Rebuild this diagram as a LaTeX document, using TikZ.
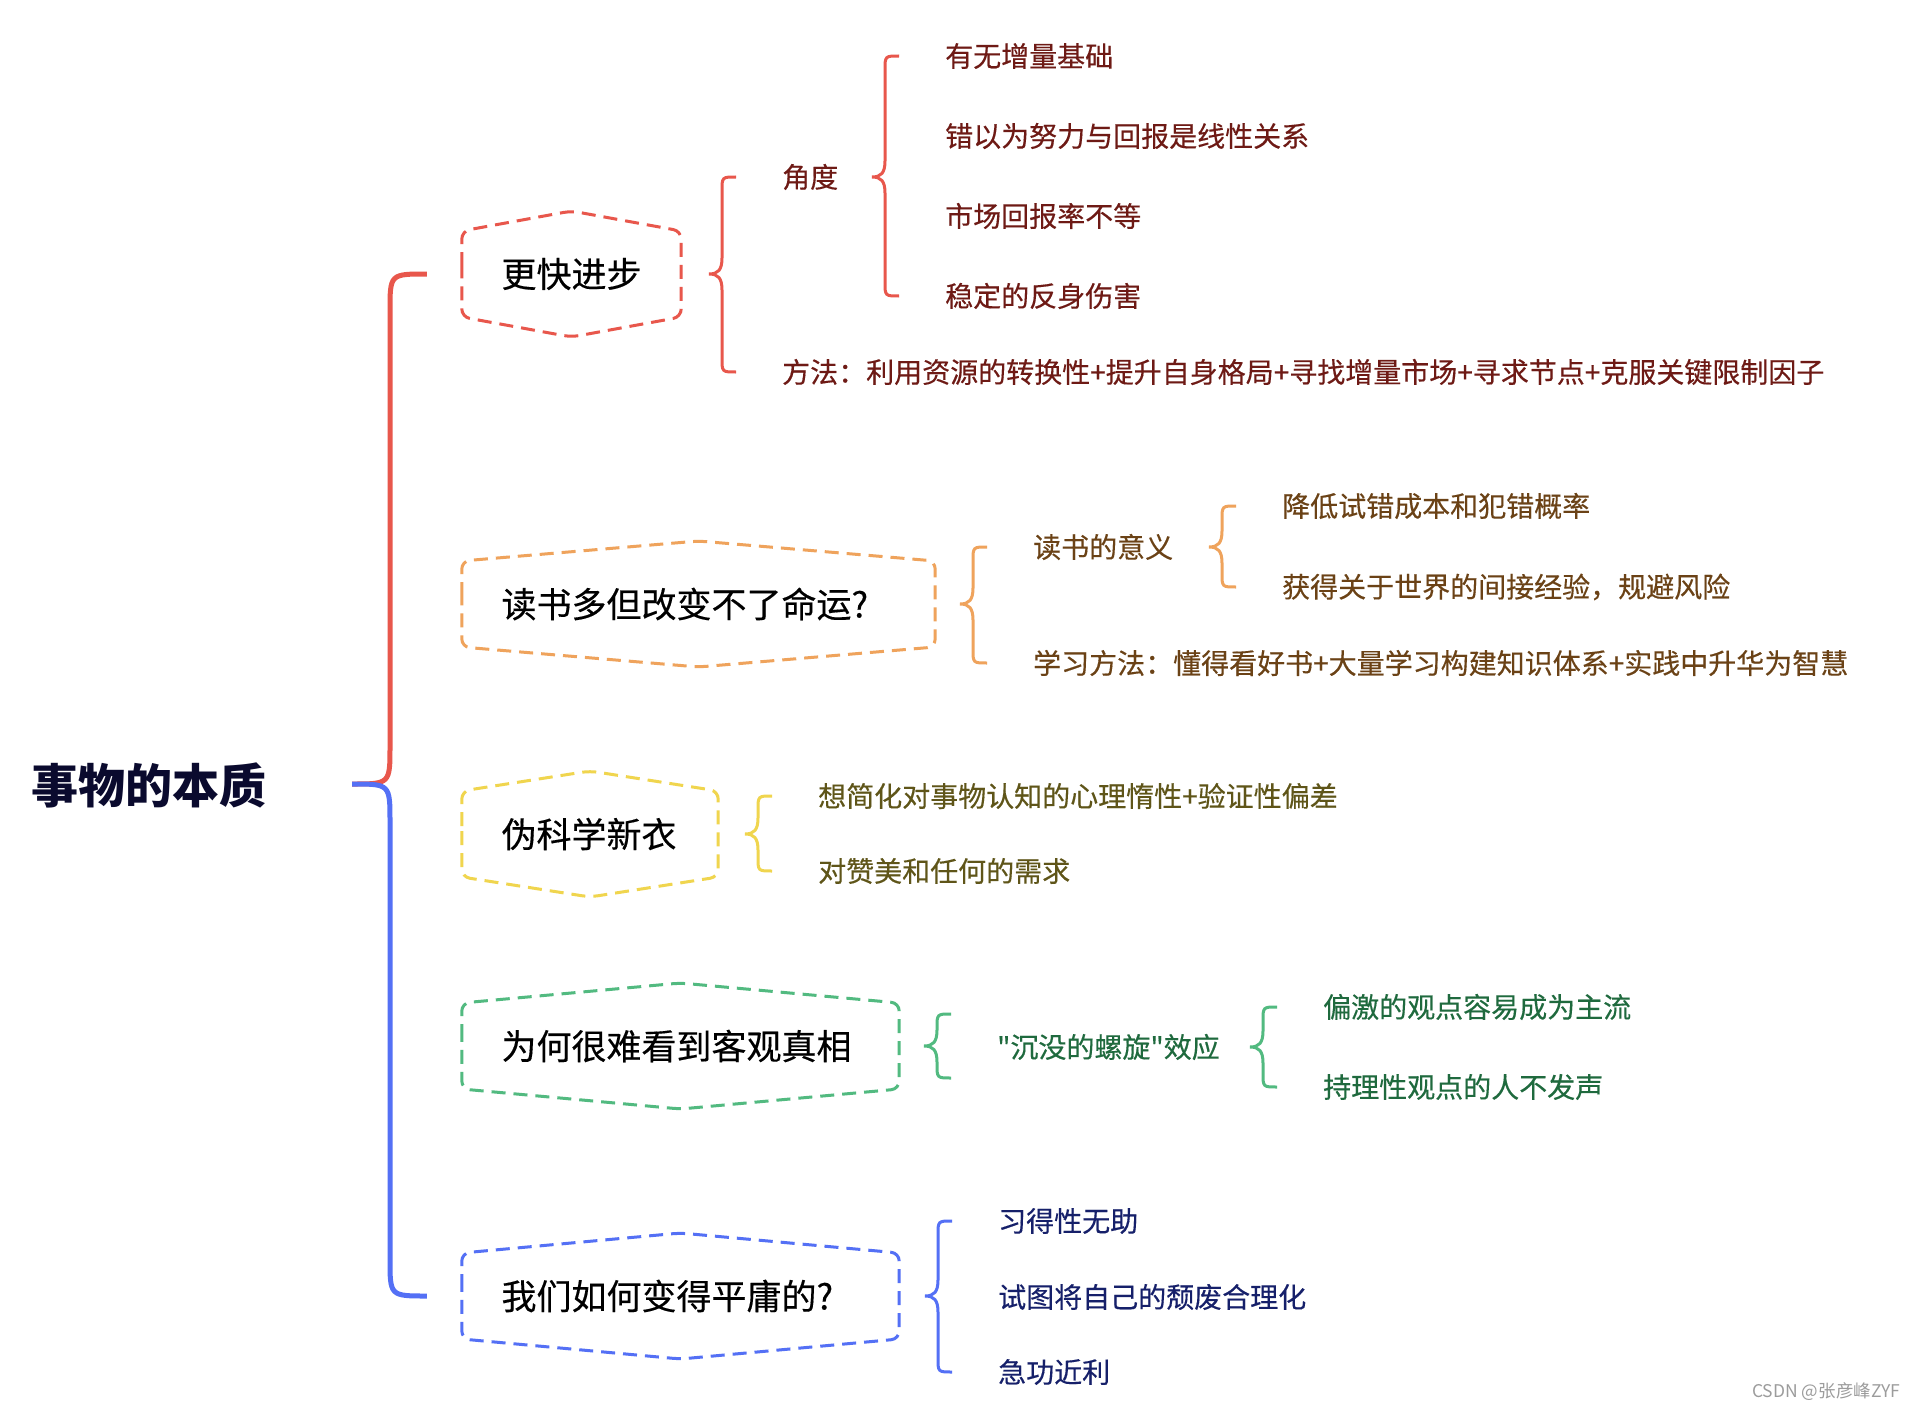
\documentclass[tikz,border=0pt]{standalone}
\usepackage{fontspec}
\setmainfont{Noto Sans CJK SC}
\newfontfamily\cjkm{Noto Sans CJK SC}[FakeBold=0.35]
\usetikzlibrary{calc}
\definecolor{cRed}{HTML}{E8574C}
\definecolor{cOrange}{HTML}{EFA35C}
\definecolor{cYellow}{HTML}{F0D54E}
\definecolor{cGreen}{HTML}{52BA80}
\definecolor{cBlue}{HTML}{5470F5}
\definecolor{tRed}{HTML}{6E1A15}
\definecolor{tOrange}{HTML}{6B4216}
\definecolor{tYellow}{HTML}{5F5519}
\definecolor{tGreen}{HTML}{1F6A3E}
\definecolor{tBlue}{HTML}{16206A}
\definecolor{tRoot}{HTML}{0A0A2E}
\definecolor{tMark}{HTML}{9C9C9C}
\tikzset{
  hexbox/.style={inner xsep=39.5pt, inner ysep=0pt, align=left, text=black,
    font=\cjkm\fontsize{35pt}{40pt}\selectfont},
  hexline/.style={line width=3pt, dash pattern=on 14pt off 8pt, rounded corners=8pt},
  subtext/.style={anchor=west, inner sep=0pt, font=\cjkm\fontsize{28pt}{32pt}\selectfont},
  subbrace/.style={line width=3pt},
  mainbrace/.style={line width=5pt},
}
\newcommand\hexo[2]{%
  \draw[#1,hexline] let \p1=(#2.west), \p2=(#2.east), \p3=(#2.center) in
    (\x1,\y3) -- (\x1,\y3+43pt) -- (\x3,\y3+63pt) -- (\x2,\y3+43pt)
    -- (\x2,\y3-43pt) -- (\x3,\y3-63pt) -- (\x1,\y3-43pt) -- cycle;}
\newcommand\mbrace[4]{%
  \draw[#1,subbrace] let \p1=(#2.center), \p2=(#3.west), \p3=(#4.west) in
    (\x2-46pt,\y2) .. controls (\x2-60pt,\y2) .. (\x2-60pt,\y2-14pt)
    -- (\x2-60pt,\y1+16pt)
    .. controls (\x2-60pt,\y1+4pt) and (\x2-64pt,\y1) .. (\x2-73pt,\y1)
    .. controls (\x2-64pt,\y1) and (\x2-60pt,\y1-4pt) .. (\x2-60pt,\y1-16pt)
    -- (\x2-60pt,\y3+14pt)
    .. controls (\x2-60pt,\y3) .. (\x2-46pt,\y3);}
\begin{document}
\begin{tikzpicture}[x=1pt,y=-1pt]
\fill[white] (0,0) rectangle (1915,1410);
\useasboundingbox (0,0) rectangle (1915,1410);

% root
\node[anchor=west, inner sep=0pt, text=tRoot, font=\fontsize{47pt}{52pt}\selectfont\bfseries] (root) at (31,785) {事物的本质};
\coordinate (jn) at (352,784);

% hexagon nodes
\node[hexbox, text width=140pt] (h1) at (571.5,274) {更快进步};
\node[hexbox, text width=394pt] (h2) at (698.5,604) {读书多但改变不了命运?};
\node[hexbox, text width=177pt] (h3) at (590,834) {伪科学新衣};
\node[hexbox, text width=358pt] (h4) at (680.5,1046) {为何很难看到客观真相};
\node[hexbox, text width=358pt] (h5) at (680.5,1296) {我们如何变得平庸的?};
\hexo{cRed}{h1}
\hexo{cOrange}{h2}
\hexo{cYellow}{h3}
\hexo{cGreen}{h4}
\hexo{cBlue}{h5}

% main brace
\draw[cRed,mainbrace] let \p1=(jn), \p2=($(h1.west)+(-35pt,0)$) in
  (\p1) .. controls (\x1+38pt,\y1) .. (\x1+38pt,\y1+38pt)
  -- (\x1+38pt,\y2-37pt) .. controls (\x1+38pt,\y2) .. (\p2);
\draw[cBlue,mainbrace] let \p1=(jn), \p2=($(h5.west)+(-35pt,0)$) in
  (\p1) .. controls (\x1+38pt,\y1) .. (\x1+38pt,\y1-38pt)
  -- (\x1+38pt,\y2+37pt) .. controls (\x1+38pt,\y2) .. (\p2);

% red branch
\begin{scope}[every node/.append style={text=tRed}]
\node[subtext] (a1) at (782,177) {角度};
\node[subtext] (a2) at (782,372) {方法：利用资源的转换性+提升自身格局+寻找增量市场+寻求节点+克服关键限制因子};
\node[subtext] (a11) at (945,56) {有无增量基础};
\node[subtext] (a12) at (945,136) {错以为努力与回报是线性关系};
\node[subtext] (a13) at (945,216) {市场回报率不等};
\node[subtext] (a14) at (945,296) {稳定的反身伤害};
\end{scope}
\mbrace{cRed}{h1}{a1}{a2}
\mbrace{cRed}{a1}{a11}{a14}

% orange branch
\begin{scope}[every node/.append style={text=tOrange}]
\node[subtext] (b1) at (1033,547) {读书的意义};
\node[subtext] (b2) at (1033,663) {学习方法：懂得看好书+大量学习构建知识体系+实践中升华为智慧};
\node[subtext] (b11) at (1282,506) {降低试错成本和犯错概率};
\node[subtext] (b12) at (1282,587) {获得关于世界的间接经验，规避风险};
\end{scope}
\mbrace{cOrange}{h2}{b1}{b2}
\mbrace{cOrange}{b1}{b11}{b12}

% yellow branch
\begin{scope}[every node/.append style={text=tYellow}]
\node[subtext] (c1) at (818,796) {想简化对事物认知的心理惰性+验证性偏差};
\node[subtext] (c2) at (818,871) {对赞美和任何的需求};
\end{scope}
\mbrace{cYellow}{h3}{c1}{c2}

% green branch
\begin{scope}[every node/.append style={text=tGreen}]
\node[subtext] (d1) at (997,1047) {"沉没的螺旋"效应};
\node[subtext] (d11) at (1323,1007) {偏激的观点容易成为主流};
\node[subtext] (d12) at (1323,1087) {持理性观点的人不发声};
\end{scope}
\coordinate (d1t) at ($(d1.west)+(0,-33)$);
\coordinate (d1b) at ($(d1.west)+(0,31)$);
\mbrace{cGreen}{h4}{d1t}{d1b}
\mbrace{cGreen}{d1}{d11}{d12}

% blue branch
\begin{scope}[every node/.append style={text=tBlue}]
\node[subtext] (e1) at (998,1221) {习得性无助};
\node[subtext] (e2) at (998,1297) {试图将自己的颓废合理化};
\node[subtext] (e3) at (998,1372) {急功近利};
\end{scope}
\mbrace{cBlue}{h5}{e1}{e3}

% watermark
\node[anchor=west, inner sep=0pt, text=tMark, font=\fontsize{17.5pt}{20pt}\selectfont] (wm) at (1752,1392) {CSDN @张彦峰ZYF};
\end{tikzpicture}
\end{document}
